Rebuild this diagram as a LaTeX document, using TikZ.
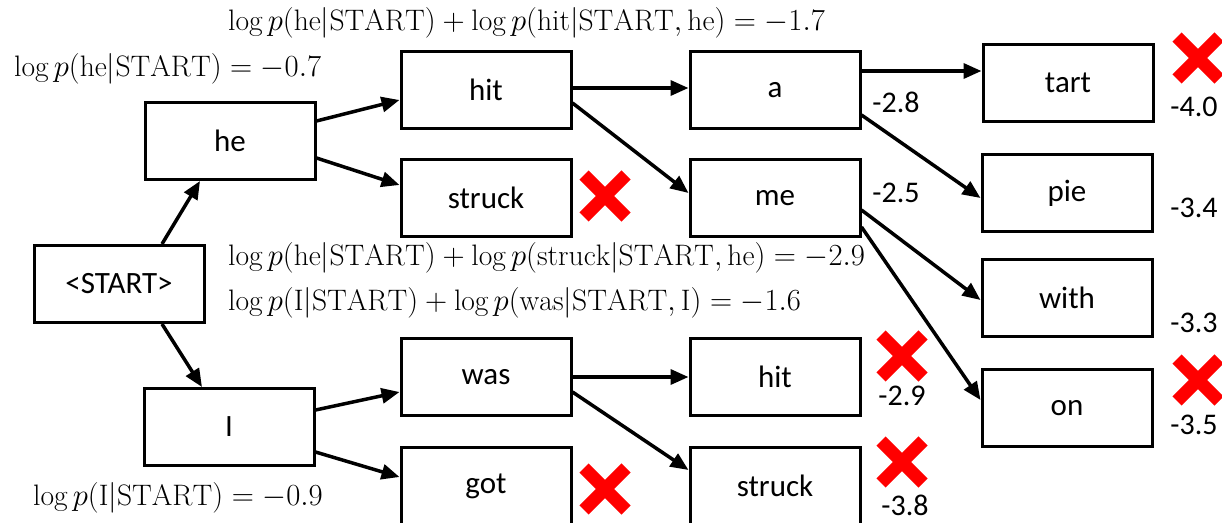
\documentclass[tikz,border=0pt]{standalone}
\usepackage{fontspec}
\newfontfamily\wordfont{Carlito}
\usetikzlibrary{calc,arrows.meta}
\newcommand{\bigmath}[1]{\scalebox{1.48}{$#1$}}
\begin{document}
\begin{tikzpicture}[x=1pt,y=-1pt,
  wordbox/.style={draw=black, line width=3pt, fill=white, minimum width=170pt, minimum height=77pt,
    inner sep=0pt, font=\wordfont\fontsize{31}{35}\selectfont},
  score/.style={inner sep=0pt, font=\wordfont\fontsize{30}{34}\selectfont},
  mathlabel/.style={inner sep=0pt, anchor=west, font=\fontsize{20}{24}\selectfont},
  link/.style={line width=3.5pt, -{Triangle[length=18pt,width=15pt]}},
  xmark/.pic={\draw[red, line width=13pt] (-21,-21) -- (21,21) (-21,21) -- (21,-21);}
]
\useasboundingbox (0,0) rectangle (1222,522);

% word boxes of the search tree
\node[wordbox] (start) at (119,284) {<START>};
\node[wordbox] (he) at (230,141) {he};
\node[wordbox] (I) at (229,427) {I};
\node[wordbox] (hit) at (486,90) {hit};
\node[wordbox] (struckA) at (486,198) {struck};
\node[wordbox] (was) at (486,377) {was};
\node[wordbox] (got) at (486,486) {got};
\node[wordbox] (a) at (775,90) {a};
\node[wordbox] (me) at (775,198) {me};
\node[wordbox] (hitB) at (775,377) {hit};
\node[wordbox] (struckB) at (775,486) {struck};
\node[wordbox] (tart) at (1068,83) {tart};
\node[wordbox] (pie) at (1067,193) {pie};
\node[wordbox] (with) at (1067,298) {with};
\node[wordbox] (on) at (1067,408) {on};

% expansions
\draw[link] ($(start.north)+(43,0)$) -- ($(he.south)+(-30,0)$);
\draw[link] ($(start.south)+(43,0)$) -- ($(I.north)+(-27,0)$);
\draw[link] ($(he.east)+(0,-20)$) -- ($(hit.west)+(0,10)$);
\draw[link] ($(he.east)+(0,17)$) -- ($(struckA.west)+(0,-13)$);
\draw[link] ($(I.east)+(0,-17)$) -- ($(was.west)+(0,15)$);
\draw[link] ($(I.east)+(0,25)$) -- ($(got.west)+(0,-9)$);
\draw[link] ($(hit.east)+(0,-2)$) -- ($(a.west)+(0,-2)$);
\draw[link] ($(hit.east)+(0,13)$) -- ($(me.west)+(0,-5)$);
\draw[link] (was.east) -- (hitB.west);
\draw[link] ($(was.east)+(0,15)$) -- ($(struckB.west)+(0,-16)$);
\draw[link] ($(a.east)+(0,-19)$) -- ($(tart.west)+(0,-12)$);
\draw[link] ($(a.east)+(0,25)$) -- ($(pie.west)+(0,5)$);
\draw[link] ($(me.east)+(0,12)$) -- ($(with.west)+(0,2)$);
\draw[link] ($(me.east)+(0,29)$) -- ($(on.west)+(0,-8)$);

% pruned hypotheses
\pic at (605,196) {xmark};
\pic at (605,489) {xmark};
\pic at (902,356) {xmark};
\pic at (902,462) {xmark};
\pic at (1198,58) {xmark};
\pic at (1198,380) {xmark};

% cumulative scores
\node[score] (s28) at (896,102) {-2.8};
\node[score] (s25) at (896,193) {-2.5};
\node[score] (s40) at (1194,107) {-4.0};
\node[score] (s34) at (1194,208) {-3.4};
\node[score] (s33) at (1194,323) {-3.3};
\node[score] (s35) at (1194,425) {-3.5};
\node[score] (s29) at (902,396) {-2.9};
\node[score] (s38) at (905,505) {-3.8};

% log-probability annotations
\node[mathlabel] (lhit) at (228,23) {\bigmath{\log p(\mathrm{he}|\mathrm{START})+\log p(\mathrm{hit}|\mathrm{START},\mathrm{he})=-1.7}};
\node[mathlabel] (lhe) at (14,69) {\bigmath{\log p(\mathrm{he}|\mathrm{START})=-0.7}};
\node[mathlabel] (lstruck) at (228,258) {\bigmath{\log p(\mathrm{he}|\mathrm{START})+\log p(\mathrm{struck}|\mathrm{START},\mathrm{he})=-2.9}};
\node[mathlabel] (lwas) at (228,303) {\bigmath{\log p(\mathrm{I}|\mathrm{START})+\log p(\mathrm{was}|\mathrm{START},\mathrm{I})=-1.6}};
\node[mathlabel] (lI) at (33,498) {\bigmath{\log p(\mathrm{I}|\mathrm{START})=-0.9}};
\end{tikzpicture}
\end{document}
